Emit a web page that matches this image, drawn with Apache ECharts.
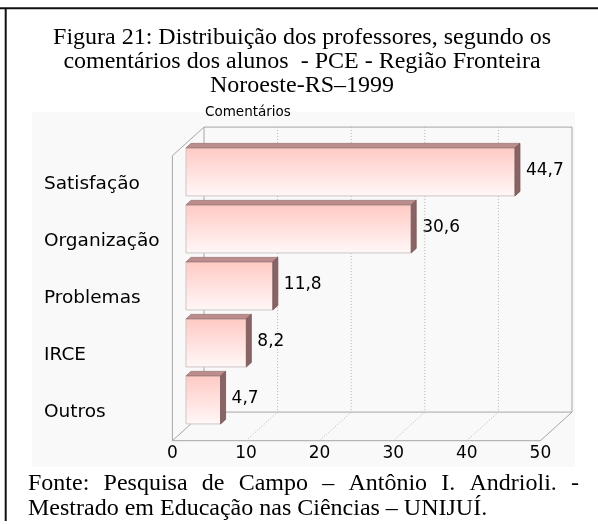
<!DOCTYPE html>
<html>
<head>
<meta charset="utf-8">
<script src="https://cdn.jsdelivr.net/npm/echarts@6/dist/echarts.min.js"></script>
<style>
html,body{margin:0;padding:0;background:#fff;}
#c{width:598px;height:524px;}
</style>
</head>
<body>
<div id="c"></div>
<script>
// ---- data ----
const categories = ['Satisfação', 'Organização', 'Problemas', 'IRCE', 'Outros'];
const values = [44.7, 30.6, 11.8, 8.2, 4.7];
const xTicks = [0, 10, 20, 30, 40, 50];
const titleLines = [
  'Figura 21: Distribuição dos professores, segundo os',
  'comentários dos alunos  - PCE - Região Fronteira',
  'Noroeste-RS–1999'
];
const axisTitle = 'Comentários';
const footerWords1 = ['Fonte:', 'Pesquisa', 'de', 'Campo', '–', 'Antônio', 'I.', 'Andrioli.', '-'];
const footerLine2 = 'Mestrado em Educação nas Ciências – UNIJUÍ.';

// ---- style constants ----
const SANS = '"DejaVu Sans", sans-serif';
const SERIF = '"Liberation Serif", "Times New Roman", serif';
const DEPTH = [31.6, -28.6];      // front plane -> back wall
const BAR_PLANE = 0.43;           // bar front face depth fraction
const BAR_DEPTH = [5, -4.5];      // bar thickness (top/side faces)
const BAR_RATIO = 0.843;

const chart = echarts.init(document.getElementById('c'), null, {renderer: 'canvas'});

// justified footer line
const ctx = document.createElement('canvas').getContext('2d');
ctx.font = '24px "Liberation Serif"';
const fx0 = 28, fx1 = 579;
const widths = footerWords1.map(w => ctx.measureText(w).width);
const totalW = widths.reduce((a, b) => a + b, 0);
const gap = (fx1 - fx0 - totalW) / (footerWords1.length - 1);
let cx = fx0;
const footerEls = footerWords1.map((w, i) => {
  const el = {type: 'text', x: cx, y: 483.5, style: {text: w, font: '24px ' + SERIF, fill: '#000', align: 'left', verticalAlign: 'middle'}};
  cx += widths[i] + gap;
  return el;
});

function frameItem(params, api) {
  const cs = params.coordSys;
  const v = api.value(0);
  const x = api.coord([v, 0])[0];
  const top = cs.y, bot = cs.y + cs.height;
  const solid = {stroke: '#a6a6a6', lineWidth: 1};
  const dotted = {stroke: '#b4b4b4', lineWidth: 1, lineDash: [1, 2]};
  const edge = (v === xTicks[0] || v === xTicks[xTicks.length - 1]);
  const st = edge ? solid : dotted;
  const children = [
    {type: 'line', shape: {x1: x, y1: bot, x2: x + DEPTH[0], y2: bot + DEPTH[1]}, style: st},
    {type: 'line', shape: {x1: x + DEPTH[0], y1: top + DEPTH[1], x2: x + DEPTH[0], y2: bot + DEPTH[1]}, style: st}
  ];
  if (v === xTicks[0]) {
    const xe = api.coord([xTicks[xTicks.length - 1], 0])[0];
    children.push(
      {type: 'line', shape: {x1: x, y1: top, x2: x, y2: bot}, style: solid},
      {type: 'line', shape: {x1: x, y1: top, x2: x + DEPTH[0], y2: top + DEPTH[1]}, style: solid},
      {type: 'line', shape: {x1: x, y1: bot, x2: xe, y2: bot}, style: solid},
      {type: 'line', shape: {x1: x + DEPTH[0], y1: bot + DEPTH[1], x2: xe + DEPTH[0], y2: bot + DEPTH[1]}, style: solid},
      {type: 'line', shape: {x1: x + DEPTH[0], y1: top + DEPTH[1], x2: xe + DEPTH[0], y2: top + DEPTH[1]}, style: solid}
    );
  }
  return {type: 'group', children};
}

function barItem(params, api) {
  const v = api.value(0);
  const c = api.value(1);
  const p0 = api.coord([0, c]);
  const p1 = api.coord([v, c]);
  const band = api.size([0, 1])[1];
  const h = band * BAR_RATIO;
  const ox = DEPTH[0] * BAR_PLANE, oy = DEPTH[1] * BAR_PLANE;
  const x = p0[0] + ox, y = p0[1] + oy - h / 2, w = p1[0] - p0[0];
  const dx = BAR_DEPTH[0], dy = BAR_DEPTH[1];
  const label = String(v).replace('.', ',');
  return {
    type: 'group',
    children: [
      {type: 'rect', shape: {x: x, y: y, width: w, height: h},
        style: {fill: new echarts.graphic.LinearGradient(0, 0, 0, 1, [
          {offset: 0, color: '#ffc9c3'}, {offset: 1, color: '#fff8f8'}]),
          stroke: '#cfc6c6', lineWidth: 1}},
      {type: 'polygon', shape: {points: [[x, y], [x + dx, y + dy], [x + w + dx, y + dy], [x + w, y]]},
        style: {fill: '#bb8d8d', stroke: '#9e7373', lineWidth: 0.8}},
      {type: 'polygon', shape: {points: [[x + w, y], [x + w + dx, y + dy], [x + w + dx, y + h + dy], [x + w, y + h]]},
        style: {fill: '#8a6464', stroke: '#775656', lineWidth: 0.8}},
      {type: 'text', x: x + w + dx + 6, y: y + h / 2 - 1,
        style: {text: label, font: '17px ' + SANS, fill: '#000', align: 'left', verticalAlign: 'middle',
          textAlign: 'left', textVerticalAlign: 'middle'}}
    ]
  };
}

const option = {
  animation: false,
  backgroundColor: '#ffffff',
  title: {
    text: titleLines.join('\n'),
    left: 297, top: 21, textAlign: 'center',
    textStyle: {fontFamily: SERIF, fontSize: 24, fontWeight: 'normal', lineHeight: 24, color: '#000'}
  },
  graphic: [
    {type: 'rect', z: -10, shape: {x: 32, y: 112, width: 543, height: 355}, style: {fill: '#f9f9f9'}},
    {type: 'line', shape: {x1: 0, y1: 8.3, x2: 598, y2: 8.3}, style: {stroke: '#111', lineWidth: 2}},
    {type: 'line', shape: {x1: 5.7, y1: 8, x2: 5.7, y2: 521}, style: {stroke: '#111', lineWidth: 2}},
    {type: 'text', x: 205, y: 112, style: {text: axisTitle, font: '13.5px ' + SANS, fill: '#000', align: 'left', verticalAlign: 'middle'}},
    ...footerEls,
    {type: 'text', x: 28, y: 508.5, style: {text: footerLine2, font: '24px ' + SERIF, fill: '#000', align: 'left', verticalAlign: 'middle'}}
  ],
  grid: {left: 172.4, top: 155.7, width: 368, height: 285},
  xAxis: {
    type: 'value', min: 0, max: 50, interval: 10,
    axisLine: {show: false}, axisTick: {show: false}, splitLine: {show: false},
    axisLabel: {fontFamily: SANS, fontSize: 17, color: '#000', margin: 4, lineHeight: 17,
      formatter: v => xTicks.includes(v) ? String(v) : ''}
  },
  yAxis: {
    type: 'category', data: categories, inverse: true,
    axisLine: {show: false}, axisTick: {show: false}, splitLine: {show: false},
    axisLabel: {fontFamily: SANS, fontSize: 18.5, color: '#000', align: 'left', margin: 128.4}
  },
  series: [
    {type: 'custom', z: 1, renderItem: frameItem, data: xTicks.map(v => [v, 0]), encode: {x: 0, y: 1}, silent: true},
    {type: 'custom', z: 2, renderItem: barItem, data: values.map((v, i) => [v, i]), encode: {x: 0, y: 1}}
  ]
};
chart.setOption(option);
</script>
</body>
</html>
